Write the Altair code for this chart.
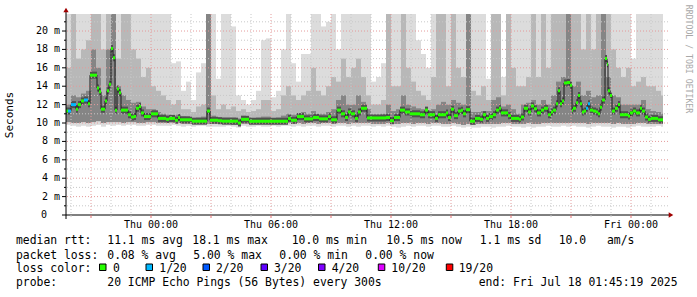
import altair as alt
import pandas as pd

# ---------------- data (times in minutes relative to Thu 00:00) ----------------
START = -255          # Wed 19:45
STEP = 15
END = 1536            # last sample drawn
X_DOMAIN = [-255, 1551]
Y_DOMAIN = [0, 21.85]

# smoke: upper edge of lightest band, medium band, dark band; lower edges
HI = [21.9, 21.9, 21.9, 21.9, 21.9, 21.9, 21.9, 21.9, 21.9, 21.9,
      21.9, 21.9, 21.9, 21.9, 21.9, 21.9, 21.9, 21.9, 21.9, 21.9,
      21.9, 16.5, 16.7, 13.5, 14.5, 12.5, 15.5, 16.5, 21.9, 21.9,
      14.8, 21.9, 21.9, 20.5, 13.0, 12.5, 12.0, 12.5, 13.5, 19.0,
      19.2, 12.8, 13.5, 18.0, 21.9, 16.5, 14.5, 17.5, 17.5, 21.9,
      21.9, 20.5, 21.0, 21.9, 18.0, 21.9, 21.9, 21.9, 21.9, 21.9,
      21.9, 14.5, 15.0, 16.5, 21.9, 21.9, 21.9, 21.9, 21.9, 21.9,
      19.0, 17.5, 16.0, 21.9, 21.9, 21.9, 21.9, 21.9, 21.9, 21.9,
      21.9, 21.9, 21.9, 21.9, 14.8, 21.9, 21.9, 15.0, 21.9, 21.9,
      21.9, 21.9, 21.9, 21.9, 21.9, 21.9, 21.9, 21.9, 21.9, 21.9,
      21.9, 21.9, 21.9, 21.9, 21.9, 21.9, 21.9, 21.9, 21.9, 21.9,
      21.9, 21.9, 21.9, 17.0, 21.9, 21.9, 21.9, 21.9, 21.9, 21.9]
MID = [16, 21.9, 17, 18, 19, 21.9, 21.9, 18, 21.9, 21.9,
       17, 21.9, 21.9, 18, 17, 15, 16, 14, 13.5, 13,
       12.5, 12, 12.5, 11.5, 11.5, 11.2, 11.8, 12, 21.9, 13,
       11.5, 12, 11.5, 11.8, 11.3, 11.5, 11.2, 11.3, 11.5, 12.5,
       12.5, 11.3, 11.5, 13, 14, 13, 12.5, 13, 13.5, 16,
       13.5, 13, 14, 15, 14.5, 17, 15, 16, 17, 15,
       13, 12, 12, 12.5, 21.9, 14, 14, 21.9, 16, 14.5,
       13.5, 13, 12.5, 15, 21.9, 21.9, 14, 21.9, 16, 15,
       21.9, 13.5, 13, 14, 12.5, 21.9, 21.9, 13, 21.9, 16,
       14, 14, 15, 21.9, 15, 21.9, 16, 21.9, 21.9, 21.9,
       21.9, 21.9, 21.9, 18, 21.9, 18, 21.9, 21.9, 21.9, 18,
       16, 15, 16, 14, 14.5, 15, 14, 14, 13.5, 13]
DARK = [12, 13, 12.8, 13.2, 13.5, 18, 16, 13, 18, 21.9,
        14, 13, 12.5, 12.2, 12.3, 11.8, 11.5, 11.5, 11.2, 11,
        10.9, 10.8, 10.9, 10.7, 10.6, 10.5, 10.6, 10.7, 21.9, 10.8,
        10.6, 10.6, 10.6, 10.6, 10.5, 10.8, 10.6, 10.5, 10.6, 10.7,
        10.7, 10.5, 10.6, 10.8, 11, 10.9, 11, 11.2, 11, 11.3,
        11, 11, 11.2, 11.5, 12.5, 13, 12, 12, 13, 12.3,
        11.5, 10.9, 10.9, 11, 12, 11.3, 11.5, 13, 12, 11.8,
        11.6, 11.5, 11.4, 11.5, 12, 12.3, 12, 12.5, 12.2, 12,
        21.9, 11.2, 11.2, 11.3, 11.3, 12.5, 12.8, 11.8, 12, 11.5,
        11, 12, 12.2, 12.5, 12, 12.5, 12, 13, 14.5, 15,
        21.9, 14, 14.5, 13, 13.5, 12.8, 13, 21.9, 15, 13,
        12.8, 12, 12, 12, 12, 12.5, 11.5, 11.3, 11.2, 11]
LO = [9.8, 9.7, 9.6, 9.7, 9.6, 9.7, 9.8, 9.6, 9.8, 9.7,
      9.8, 9.7, 9.8, 9.8, 9.7, 9.7, 9.8, 9.8, 9.7, 9.7,
      9.7, 9.8, 9.7, 9.6, 9.7, 9.6, 9.7, 9.7, 9.6, 9.6,
      9.6, 9.6, 9.7, 9.6, 9.5, 9.7, 9.6, 9.6, 9.7, 9.6,
      9.6, 9.7, 9.6, 9.7, 9.7, 9.6, 9.7, 9.6, 9.7, 9.7,
      9.6, 9.7, 9.7, 9.6, 9.7, 9.7, 9.6, 9.7, 9.6, 9.7,
      9.7, 9.6, 9.7, 9.6, 9.7, 9.6, 9.5, 9.6, 9.7, 9.6,
      9.7, 9.7, 9.6, 9.7, 9.7, 9.6, 9.6, 9.7, 9.6, 9.5,
      9.6, 9.5, 9.5, 9.6, 9.6, 9.5, 9.6, 9.6, 9.7, 9.6,
      9.6, 9.5, 9.6, 9.5, 9.6, 9.6, 9.7, 9.6, 9.6, 9.7,
      9.6, 9.7, 9.6, 9.6, 9.5, 9.6, 9.7, 9.6, 9.6, 9.5,
      9.6, 9.6, 9.5, 9.6, 9.7, 9.6, 9.6, 9.6, 9.7, 9.6]
MLO = [10.1, 10.0, 10.0, 10.1, 10.0, 10.1, 10.2, 10.0, 10.1, 10.1,
       10.1, 10.0, 10.1, 10.1, 10.0, 10.0, 10.1, 10.1, 10.0, 10.0,
       10.0, 10.0, 10.0, 9.9, 9.9, 9.9, 9.9, 9.9, 9.9, 9.9,
       9.9, 9.9, 9.9, 9.8, 9.8, 9.9, 9.9, 9.9, 9.9, 9.9,
       9.9, 9.9, 9.9, 9.9, 10.0, 9.9, 10.0, 9.9, 10.0, 10.0,
       9.9, 10.0, 10.0, 9.9, 10.0, 10.0, 9.9, 10.0, 10.0, 10.0,
       10.0, 9.9, 9.9, 9.9, 10.0, 9.9, 9.9, 10.0, 10.0, 9.9,
       10.0, 10.0, 9.9, 10.0, 10.0, 9.9, 9.9, 10.0, 9.9, 9.8,
       9.9, 9.8, 9.9, 9.9, 9.9, 9.9, 9.9, 10.0, 10.0, 9.9,
       9.9, 9.9, 10.0, 9.9, 9.9, 10.0, 10.0, 10.0, 10.0, 10.0,
       10.0, 10.0, 10.0, 10.0, 9.9, 10.0, 10.0, 10.0, 10.0, 9.9,
       10.0, 9.9, 9.9, 9.9, 10.0, 10.0, 9.9, 9.9, 9.9, 9.9]

# median rtt (ms), segment start times (minutes) and packet loss class
MED_T = [-255, -249, -240, -225, -219, -210, -201, -189, -183, -162,
         -156, -150, -138, -132, -126, -120, -114, -108, -102, -96,
         -90, -69, -60, -51, -45, -36, -30, -21, 0, 21,
         45, 54, 72, 81, 87, 123, 168, 177, 201, 213,
         261, 270, 294, 411, 420, 438, 459, 486, 504, 531,
         540, 558, 570, 582, 591, 600, 612, 621, 630, 648,
         705, 717, 729, 747, 762, 777, 807, 822, 831, 852,
         861, 885, 891, 900, 909, 921, 930, 936, 945, 957,
         972, 987, 996, 1005, 1014, 1026, 1035, 1044, 1050, 1071,
         1080, 1104, 1110, 1119, 1131, 1140, 1149, 1158, 1170, 1179,
         1191, 1200, 1206, 1215, 1221, 1227, 1233, 1239, 1248, 1257,
         1263, 1266, 1275, 1281, 1287, 1293, 1299, 1305, 1311, 1317,
         1326, 1335, 1341, 1347, 1353, 1362, 1368, 1371, 1377, 1383,
         1392, 1401, 1407, 1431, 1437, 1446, 1455, 1467, 1473, 1482,
         1491, 1500, 1521]
MED_V = [11.3, 11.3, 12.0, 11.5, 12.0, 12.4, 12.5, 12.1, 15.2, 13.8,
         13.4, 11.5, 12.4, 13.5, 14.2, 18.1, 17.1, 11.4, 13.7, 13.3,
         11.4, 10.9, 10.65, 10.7, 11.6, 11.8, 11.1, 10.7, 11.0, 10.5,
         10.4, 10.5, 10.3, 10.6, 10.35, 10.2, 11.3, 10.3, 10.25, 10.2,
         10.0, 10.4, 10.2, 10.5, 10.3, 10.7, 10.45, 10.6, 10.45, 10.7,
         10.35, 11.4, 11.0, 10.6, 11.2, 11.0, 10.5, 11.2, 11.6, 10.55,
         10.6, 10.25, 10.6, 11.4, 11.2, 11.0, 10.9, 11.4, 10.9, 10.5,
         10.9, 11.1, 10.6, 11.5, 10.8, 11.3, 11.4, 11.0, 11.45, 10.2,
         10.5, 10.4, 10.9, 10.5, 10.7, 10.9, 11.4, 11.6, 11.1, 10.8,
         10.5, 10.4, 10.65, 11.6, 11.2, 11.85, 11.55, 11.1, 11.4, 11.6,
         10.9, 11.2, 11.4, 12.1, 13.5, 12.1, 12.4, 14.35, 14.4, 14.1,
         11.4, 11.6, 12.2, 13.0, 12.1, 11.2, 11.3, 11.6, 12.1, 11.4,
         11.3, 11.2, 11.0, 11.7, 12.5, 17.0, 16.4, 13.5, 13.0, 11.3,
         11.6, 12.0, 10.9, 10.75, 11.1, 11.3, 11.1, 11.6, 11.3, 10.65,
         10.4, 10.5, 10.35]
MED_LOSS = (["0", "1/20", "1/20", "0", "0", "0", "1/20", "0", "0", "0"]
            + ["0"] * 100
            + ["0", "0", "0", "0", "0", "0", "0", "1/20", "1/20", "0"]
            + ["0"] * 23)

LOSS_NAMES = ["0", "1/20", "2/20", "3/20", "4/20", "10/20", "19/20"]
LOSS_COLORS = ["#26ff00", "#00b8ff", "#0059ff", "#5e00ff", "#7e00ff", "#dd00ff", "#ff0000"]

Y_MAJOR = [2, 4, 6, 8, 10, 12, 14, 16, 18, 20]
Y_MINOR = [1, 3, 5, 7, 9, 11, 13, 15, 17, 19, 21]
Y_LABELS = ["2 m", "4 m", "6 m", "8 m", "10 m", "12 m", "14 m", "16 m", "18 m", "20 m"]
X_MAJOR = [-180, 0, 180, 360, 540, 720, 900, 1080, 1260, 1440]
X_MINOR = [-240, -120, -60, 60, 120, 240, 300, 420, 480, 600, 660, 780, 840,
           960, 1020, 1140, 1200, 1320, 1380, 1500]
X_LABEL_T = [0, 360, 720, 1080, 1440]
X_LABELS = ["Thu 00:00", "Thu 06:00", "Thu 12:00", "Thu 18:00", "Fri 00:00"]

LINE1 = ["median rtt:", "11.1 ms avg", "18.1 ms max", "10.0 ms min", "10.5 ms now",
         "1.1 ms sd", "10.0", "am/s"]
LINE2 = ["packet loss:", "0.08 % avg", "5.00 % max", "0.00 % min", "0.00 % now"]
LINE3_HEAD = "loss color:"
LINE4 = ["probe:", "20 ICMP Echo Pings (56 Bytes) every 300s", "end: Fri Jul 18 01:45:19 2025"]
WATERMARK = "RRDTOOL / TOBI OETIKER"
Y_TITLE = "Seconds"

# ---------------- build tables ----------------
n = len(HI)
t0 = [START + STEP * i for i in range(n)]
t1 = [min(a + STEP, END) for a in t0]
smoke = pd.DataFrame({"t0": t0, "t1": t1, "hi": HI, "mid": MID, "dark": DARK,
                      "lo": LO, "mlo": MLO})
med = pd.DataFrame({"t": MED_T, "t2": MED_T[1:] + [END], "v": MED_V, "loss": MED_LOSS})

xs = alt.Scale(domain=X_DOMAIN, nice=False, zero=False)
ys = alt.Scale(domain=Y_DOMAIN, nice=False, zero=False)
MONO = "DejaVu Sans Mono"
W, H = 602, 201

def X(f):
    return alt.X(f, type="quantitative", scale=xs, axis=None)

def Y(f):
    return alt.Y(f, type="quantitative", scale=ys, axis=None)

layers = []
base = alt.Chart(smoke)
for top, bottom, col in [("hi", "lo", "#dcdcdc"), ("mid", "mlo", "#b8b8b8"), ("dark", "mlo", "#858585")]:
    layers.append(base.mark_rect(color=col, clip=True, strokeWidth=0).encode(
        x=X("t0"), x2=alt.X2("t1"), y=Y(bottom), y2=alt.Y2(top)))

# dark core of the smoke around the median
layers.append(alt.Chart(med).mark_rule(strokeWidth=7, strokeCap="butt", color="#505050").encode(
    x=X("t"), x2=alt.X2("t2"), y=Y("v")))

# grid
dash = [1, 2]
layers.append(alt.Chart(pd.DataFrame({"v": Y_MINOR})).mark_rule(color="#c8c8c8", strokeDash=dash, strokeWidth=1)
              .encode(y=Y("v")))
layers.append(alt.Chart(pd.DataFrame({"t": X_MINOR})).mark_rule(color="#c8c8c8", strokeDash=dash, strokeWidth=1)
              .encode(x=X("t")))
layers.append(alt.Chart(pd.DataFrame({"v": Y_MAJOR})).mark_rule(color="#e49a9a", strokeDash=dash, strokeWidth=1)
              .encode(y=Y("v")))
layers.append(alt.Chart(pd.DataFrame({"t": X_MAJOR})).mark_rule(color="#e49a9a", strokeDash=dash, strokeWidth=1)
              .encode(x=X("t")))

# median
layers.append(alt.Chart(med).mark_line(interpolate="step-after", color="#1a1a1a", strokeWidth=1)
              .encode(x=X("t"), y=Y("v")))
layers.append(alt.Chart(med).mark_rule(strokeWidth=3, strokeCap="butt").encode(
    x=X("t"), x2=alt.X2("t2"), y=Y("v"),
    color=alt.Color("loss:N", scale=alt.Scale(domain=LOSS_NAMES, range=LOSS_COLORS), legend=None)))

# axes lines, ticks, arrows
layers.append(alt.Chart(pd.DataFrame({"a": [0]})).mark_rule(color="#000000", strokeWidth=1).encode(
    x=alt.value(-4), x2=alt.value(604), y=alt.value(H)))
layers.append(alt.Chart(pd.DataFrame({"a": [0]})).mark_rule(color="#000000", strokeWidth=1).encode(
    x=alt.value(0), y=alt.value(H + 4), y2=alt.value(-4)))
layers.append(alt.Chart(pd.DataFrame({"v": Y_MAJOR})).mark_rule(color="#000000").encode(
    y=Y("v"), x=alt.value(-4), x2=alt.value(0)))
layers.append(alt.Chart(pd.DataFrame({"v": Y_MINOR})).mark_rule(color="#000000").encode(
    y=Y("v"), x=alt.value(-2), x2=alt.value(0)))
layers.append(alt.Chart(pd.DataFrame({"t": X_MINOR})).mark_rule(color="#c8c8c8").encode(
    x=X("t"), y=alt.value(H), y2=alt.value(H + 2)))
layers.append(alt.Chart(pd.DataFrame({"t": X_MAJOR})).mark_rule(color="#e07070").encode(
    x=X("t"), y=alt.value(H), y2=alt.value(H + 3)))
layers.append(alt.Chart(pd.DataFrame({"a": [0]})).mark_point(shape="triangle-up", filled=True, size=28,
                                                             color="#a00000", opacity=1).encode(
    x=alt.value(0), y=alt.value(-4)))
layers.append(alt.Chart(pd.DataFrame({"a": [0]})).mark_point(shape="triangle-right", filled=True, size=28,
                                                             color="#a00000", opacity=1).encode(
    x=alt.value(605), y=alt.value(H)))

# axis labels
layers.append(alt.Chart(pd.DataFrame({"v": Y_MAJOR, "s": Y_LABELS})).mark_text(
    align="right", baseline="middle", font=MONO, fontSize=10, color="#000").encode(
    y=Y("v"), x=alt.value(-6), text="s:N"))
layers.append(alt.Chart(pd.DataFrame({"v": [0], "s": ["0"]})).mark_text(
    align="right", baseline="middle", font=MONO, fontSize=10, color="#000").encode(
    y=Y("v"), x=alt.value(-19), text="s:N"))
layers.append(alt.Chart(pd.DataFrame({"t": X_LABEL_T, "s": X_LABELS})).mark_text(
    align="center", baseline="middle", font=MONO, fontSize=10, color="#000").encode(
    x=X("t"), y=alt.value(211), text="s:N"))
layers.append(alt.Chart(pd.DataFrame({"s": [Y_TITLE]})).mark_text(
    angle=270, align="center", baseline="middle", font=MONO, fontSize=11, color="#000").encode(
    x=alt.value(-56), y=alt.value(101), text="s:N"))
layers.append(alt.Chart(pd.DataFrame({"s": [WATERMARK]})).mark_text(
    angle=90, align="center", baseline="middle", font=MONO, fontSize=8.2, color="#a8a8a8").encode(
    x=alt.value(622), y=alt.value(45), text="s:N"))

# legend text
def txt(s, xa, ya):
    return alt.Chart(pd.DataFrame({"s": [s]})).mark_text(
        align="left", baseline="middle", font=MONO, fontSize=11.4, color="#000").encode(
        x=alt.value(xa - 66), y=alt.value(ya - 14), text="s:N")

for s, xa in zip(LINE1, [16, 107.3, 192.3, 291.7, 386.3, 479.7, 558.7, 607]):
    layers.append(txt(s, xa, 241))
for s, xa in zip(LINE2, [16, 107.3, 193.3, 279.3, 365.3]):
    layers.append(txt(s, xa, 255.7))
layers.append(txt(LINE3_HEAD, 16, 269.3))
for s, c, sx, lx in zip(LOSS_NAMES, LOSS_COLORS,
                        [99.5, 146, 203, 261, 318.5, 378.3, 446.3],
                        [113, 159.3, 216, 274, 331.7, 391.3, 458.7]):
    layers.append(alt.Chart(pd.DataFrame({"a": [0]})).mark_rect(fill=c, stroke="#000", strokeWidth=1).encode(
        x=alt.value(sx - 66), x2=alt.value(sx - 66 + 6.5), y=alt.value(264 - 14), y2=alt.value(270.5 - 14)))
    layers.append(txt(s, lx, 269.3))
for s, xa in zip(LINE4, [16, 107.3, 478.7]):
    layers.append(txt(s, xa, 283.3))

chart = alt.layer(*layers).properties(
    width=W, height=H,
    autosize=alt.AutoSizeParams(type="none"),
    padding={"left": 66, "top": 14, "right": 29, "bottom": 82},
    background="white",
).configure_view(strokeWidth=0)

chart.save("out.html", embed_options={"renderer": "svg", "actions": False})
